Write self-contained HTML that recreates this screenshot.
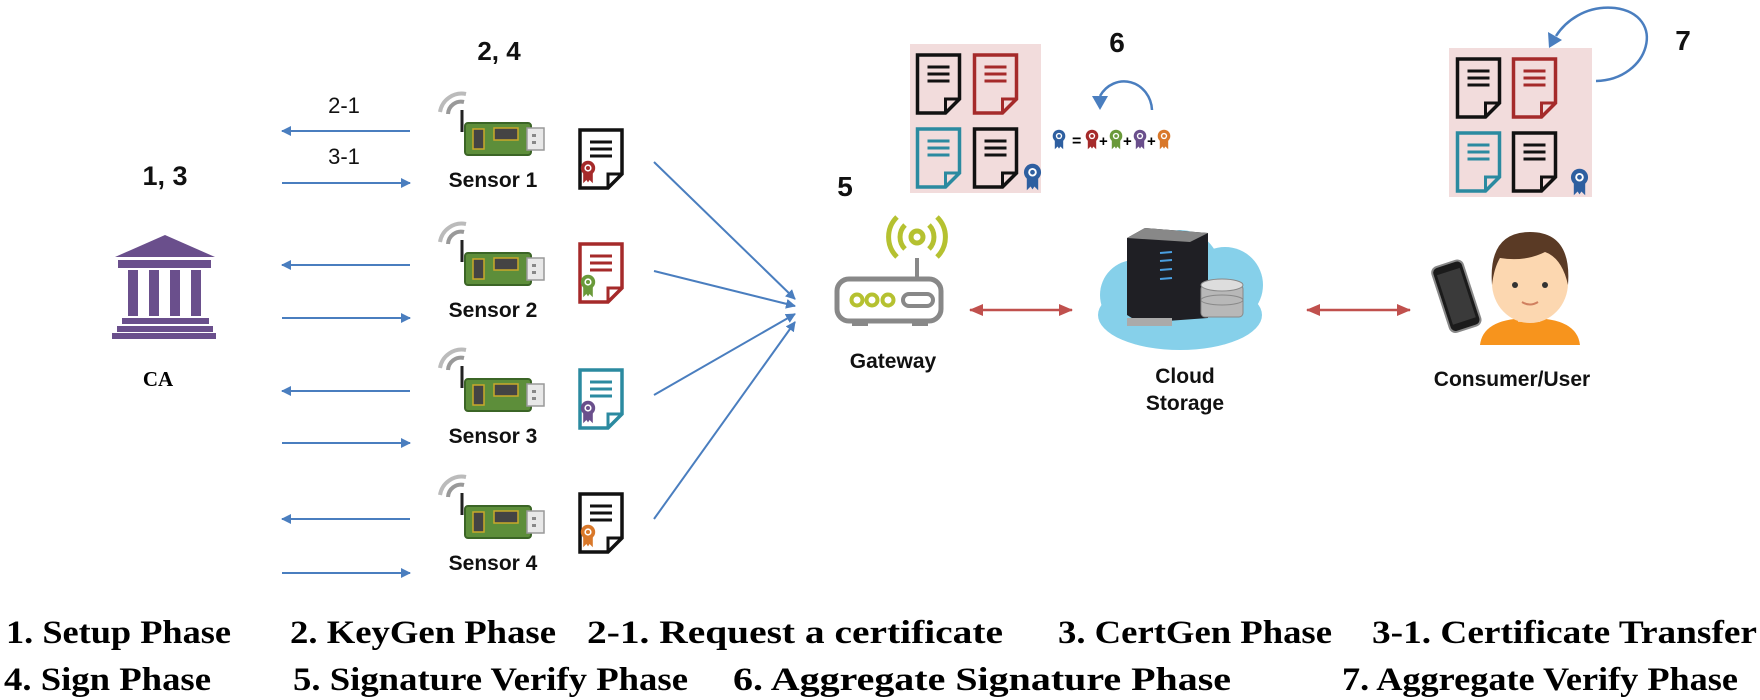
<!DOCTYPE html>
<html><head><meta charset="utf-8"><style>
html,body{margin:0;padding:0;background:#fff;}
svg{display:block;}
.lbl{font-family:"Liberation Sans",sans-serif;font-weight:bold;fill:#111;}
.leg{font-family:"Liberation Serif",serif;font-weight:bold;font-size:33px;fill:#000;}
</style></head><body>
<svg width="1760" height="700" viewBox="0 0 1760 700" xmlns="http://www.w3.org/2000/svg">
<defs>
<marker id="ab" markerWidth="10" markerHeight="10" refX="9" refY="5" orient="auto" markerUnits="userSpaceOnUse"><path d="M0,0 L10,5 L0,10 Z" fill="#4a7ebf"/></marker>
<marker id="ar" markerWidth="14" markerHeight="12" refX="13" refY="6" orient="auto-start-reverse" markerUnits="userSpaceOnUse"><path d="M0,0 L14,6 L0,12 Z" fill="#c0504d"/></marker>
<symbol id="doc" viewBox="0 0 46 62" overflow="visible">
<path d="M2,2 H44 V46 L30,60 H2 Z" fill="none" stroke="currentColor" stroke-width="3.5" stroke-linejoin="miter"/>
<path d="M44,46 H30 V60" fill="none" stroke="currentColor" stroke-width="3"/>
<path d="M12,14 H34 M12,21 H34 M12,28 H34" stroke="currentColor" stroke-width="3"/>
</symbol>
<symbol id="medal" viewBox="0 0 20 30" overflow="visible">
<path d="M4,16 V29 L8,25 L10,28 L12,25 L16,29 V16 Z" fill="currentColor"/>
<circle cx="10" cy="10" r="9" fill="currentColor"/>
<circle cx="10" cy="10" r="4.5" fill="#fff"/>
<circle cx="10" cy="10" r="2.5" fill="currentColor"/>
</symbol>
<symbol id="sensor" viewBox="0 0 110 70" overflow="visible">
<path d="M8,22 A22,22 0 0 1 34,4" fill="none" stroke="#bbb" stroke-width="4"/>
<path d="M16,24 A13,13 0 0 1 32,12" fill="none" stroke="#999" stroke-width="4"/>
<line x1="30" y1="20" x2="30" y2="42" stroke="#222" stroke-width="3"/>
<rect x="33" y="33" width="66" height="32" rx="3" fill="#5d8e3a" stroke="#3b6526" stroke-width="2"/>
<rect x="41" y="39" width="11" height="20" fill="#444" stroke="#c9a92a" stroke-width="1.5"/>
<rect x="62" y="38" width="24" height="12" fill="#444" stroke="#c9a92a" stroke-width="1.5"/>
<rect x="95" y="38" width="17" height="22" fill="#e8e8e8" stroke="#999" stroke-width="1.5"/>
<rect x="100" y="44" width="4" height="3" fill="#888"/><rect x="100" y="51" width="4" height="3" fill="#888"/>
</symbol>
</defs>

<!-- CA -->
<text class="lbl" x="165" y="185" font-size="27" text-anchor="middle">1, 3</text>
<g fill="#6a4f8c">
<polygon points="115,257 165,235 215,257"/>
<rect x="118" y="260" width="93" height="8"/>
<rect x="128" y="270" width="10" height="46"/><rect x="149" y="270" width="10" height="46"/>
<rect x="170" y="270" width="10" height="46"/><rect x="191" y="270" width="10" height="46"/>
<rect x="122" y="318" width="87" height="6"/><rect x="117" y="326" width="96" height="6"/><rect x="112" y="333" width="104" height="6"/>
</g>
<text x="158" y="386" font-family="Liberation Serif,serif" font-weight="bold" font-size="21" text-anchor="middle">CA</text>

<!-- left arrows -->
<g stroke="#4a7ebf" stroke-width="2" marker-end="url(#ab)">
<line x1="410" y1="131" x2="282" y2="131"/><line x1="282" y1="183" x2="410" y2="183"/>
<line x1="410" y1="265" x2="282" y2="265"/><line x1="282" y1="318" x2="410" y2="318"/>
<line x1="410" y1="391" x2="282" y2="391"/><line x1="282" y1="443" x2="410" y2="443"/>
<line x1="410" y1="519" x2="282" y2="519"/><line x1="282" y1="573" x2="410" y2="573"/>
</g>
<text class="lbl" x="344" y="113" font-size="22" text-anchor="middle" style="font-weight:normal">2-1</text>
<text class="lbl" x="344" y="164" font-size="22" text-anchor="middle" style="font-weight:normal">3-1</text>
<text class="lbl" x="499" y="60" font-size="26" text-anchor="middle">2, 4</text>

<!-- sensors -->
<use href="#sensor" x="432" y="90" width="110" height="70"/>
<use href="#sensor" x="432" y="220" width="110" height="70"/>
<use href="#sensor" x="432" y="346" width="110" height="70"/>
<use href="#sensor" x="432" y="473" width="110" height="70"/>
<text class="lbl" x="493" y="187" font-size="21" text-anchor="middle">Sensor 1</text>
<text class="lbl" x="493" y="317" font-size="21" text-anchor="middle">Sensor 2</text>
<text class="lbl" x="493" y="443" font-size="21" text-anchor="middle">Sensor 3</text>
<text class="lbl" x="493" y="570" font-size="21" text-anchor="middle">Sensor 4</text>

<!-- docs by sensors -->
<use href="#doc" x="578" y="128" width="46" height="62" style="color:#111"/>
<use href="#medal" x="580" y="160" width="16" height="24" style="color:#a52a2a"/>
<use href="#doc" x="578" y="242" width="46" height="62" style="color:#a52a2a"/>
<use href="#medal" x="580" y="274" width="16" height="24" style="color:#6a9a3a"/>
<use href="#doc" x="578" y="368" width="46" height="62" style="color:#2b8aa0"/>
<use href="#medal" x="580" y="400" width="16" height="24" style="color:#6a4f8c"/>
<use href="#doc" x="578" y="492" width="46" height="62" style="color:#111"/>
<use href="#medal" x="580" y="524" width="16" height="24" style="color:#d9782a"/>

<!-- lines to gateway -->
<g stroke="#4a7ebf" stroke-width="2" marker-end="url(#ab)">
<line x1="654" y1="162" x2="795" y2="299"/>
<line x1="654" y1="271" x2="795" y2="306"/>
<line x1="654" y1="395" x2="795" y2="314"/>
<line x1="654" y1="519" x2="795" y2="322"/>
</g>

<!-- gateway -->
<text class="lbl" x="845" y="196" font-size="28" text-anchor="middle">5</text>
<g fill="none" stroke="#b5c130" stroke-width="5">
<circle cx="917" cy="237" r="6"/>
<path d="M905,225 A17,17 0 0 0 905,249 M929,225 A17,17 0 0 1 929,249"/>
<path d="M897,217 A28,28 0 0 0 897,257 M937,217 A28,28 0 0 1 937,257"/>
</g>
<line x1="917" y1="258" x2="917" y2="278" stroke="#888" stroke-width="4"/>
<rect x="837" y="279" width="104" height="42" rx="12" fill="none" stroke="#888" stroke-width="5"/>
<rect x="852" y="320" width="16" height="6" fill="#888"/><rect x="912" y="320" width="16" height="6" fill="#888"/>
<g fill="none" stroke="#b5c130" stroke-width="4"><circle cx="857" cy="300" r="5.5"/><circle cx="872" cy="300" r="5.5"/><circle cx="888" cy="300" r="5.5"/></g>
<rect x="903" y="294" width="30" height="12" rx="6" fill="none" stroke="#888" stroke-width="4"/>
<text class="lbl" x="893" y="368" font-size="21" text-anchor="middle">Gateway</text>

<!-- red arrows -->
<line x1="970" y1="310" x2="1072" y2="310" stroke="#c0504d" stroke-width="2.5" marker-start="url(#ar)" marker-end="url(#ar)"/>
<line x1="1307" y1="310" x2="1410" y2="310" stroke="#c0504d" stroke-width="2.5" marker-start="url(#ar)" marker-end="url(#ar)"/>

<!-- pink box 1 -->
<rect x="910" y="44" width="131" height="149" fill="#f2dcdc"/>
<use href="#doc" x="915" y="53" width="47" height="62" style="color:#111"/>
<use href="#doc" x="972" y="53" width="47" height="62" style="color:#a52a2a"/>
<use href="#doc" x="915" y="127" width="47" height="62" style="color:#2b8aa0"/>
<use href="#doc" x="972" y="127" width="47" height="62" style="color:#111"/>
<use href="#medal" x="1023" y="162" width="19" height="30" style="color:#2e5fa0"/>

<!-- 6 -->
<text class="lbl" x="1117" y="52" font-size="28" text-anchor="middle">6</text>
<path d="M1152,110 A28,30 0 0 0 1100,96" fill="none" stroke="#4a7ebf" stroke-width="2.5"/>
<path d="M1092,96 L1108,96 L1100,110 Z" fill="#4a7ebf"/>
<use href="#medal" x="1052" y="129" width="14" height="21" style="color:#2e5fa0"/>
<text x="1072" y="146" font-family="Liberation Sans,sans-serif" font-weight="bold" font-size="16">=</text>
<use href="#medal" x="1085" y="129" width="14" height="21" style="color:#a52a2a"/>
<text x="1099" y="146" font-family="Liberation Sans,sans-serif" font-weight="bold" font-size="15">+</text>
<use href="#medal" x="1109" y="129" width="14" height="21" style="color:#6a9a3a"/>
<text x="1123" y="146" font-family="Liberation Sans,sans-serif" font-weight="bold" font-size="15">+</text>
<use href="#medal" x="1133" y="129" width="14" height="21" style="color:#6a4f8c"/>
<text x="1147" y="146" font-family="Liberation Sans,sans-serif" font-weight="bold" font-size="15">+</text>
<use href="#medal" x="1157" y="129" width="14" height="21" style="color:#d9782a"/>

<!-- cloud storage -->
<g fill="#86d0ea">
<ellipse cx="1180" cy="315" rx="82" ry="35"/>
<circle cx="1135" cy="295" r="35"/><circle cx="1180" cy="270" r="40"/><circle cx="1225" cy="285" r="38"/>
</g>
<polygon points="1127,238 1145,228 1208,233 1208,318 1140,323 1127,315" fill="#1f1f24"/>
<polygon points="1127,238 1145,228 1208,233 1190,242" fill="#888"/>
<g stroke="#4a9fe0" stroke-width="2"><line x1="1160" y1="253" x2="1172" y2="252"/><line x1="1160" y1="261" x2="1172" y2="260"/><line x1="1160" y1="270" x2="1172" y2="269"/><line x1="1160" y1="279" x2="1172" y2="278"/></g>
<rect x="1127" y="318" width="45" height="8" fill="#aaa"/>
<g fill="#b8b8b8" stroke="#888">
<rect x="1201" y="285" width="42" height="32" rx="4"/>
<ellipse cx="1222" cy="300" rx="21" ry="5"/>
<ellipse cx="1222" cy="285" rx="21" ry="6" fill="#ddd"/>
</g>
<text class="lbl" x="1185" y="383" font-size="21" text-anchor="middle">Cloud</text>
<text class="lbl" x="1185" y="410" font-size="21" text-anchor="middle">Storage</text>

<!-- pink box 2 -->
<rect x="1449" y="48" width="143" height="149" fill="#f2dcdc"/>
<use href="#doc" x="1455" y="57" width="47" height="62" style="color:#111"/>
<use href="#doc" x="1511" y="57" width="47" height="62" style="color:#a52a2a"/>
<use href="#doc" x="1455" y="131" width="47" height="62" style="color:#2b8aa0"/>
<use href="#doc" x="1511" y="131" width="47" height="62" style="color:#111"/>
<use href="#medal" x="1570" y="167" width="19" height="30" style="color:#2e5fa0"/>
<text class="lbl" x="1683" y="50" font-size="28" text-anchor="middle">7</text>
<path d="M1596,81 C1650,80 1668,15 1615,8 C1585,5 1565,22 1556,36" fill="none" stroke="#4a7ebf" stroke-width="2.5"/>
<path d="M1548,32 L1562,40 L1549,48 Z" fill="#4a7ebf"/>

<!-- user -->
<path d="M1480,345 Q1483,318 1530,318 Q1577,318 1580,345 Z" fill="#f7941d"/>
<rect x="1518" y="302" width="22" height="20" fill="#f5c9a0"/>
<ellipse cx="1530" cy="283" rx="38" ry="40" fill="#fcd7b0"/>
<path d="M1492,285 Q1488,232 1530,232 Q1572,232 1568,285 Q1562,258 1545,252 Q1525,262 1500,258 Q1494,268 1492,285 Z" fill="#5a3a25"/>
<circle cx="1515" cy="285" r="3" fill="#333"/><circle cx="1545" cy="285" r="3" fill="#333"/>
<path d="M1522,302 Q1530,307 1538,302" fill="none" stroke="#d08060" stroke-width="2"/>
<g transform="rotate(-18 1457 295)">
<rect x="1440" y="262" width="32" height="68" rx="6" fill="#1b1b1b" stroke="#888" stroke-width="2"/>
<rect x="1444" y="270" width="24" height="52" fill="#3a3a3a"/>
</g>
<text class="lbl" x="1512" y="386" font-size="21" text-anchor="middle">Consumer/User</text>

<!-- legend -->
<text class="leg" x="6" y="643" textLength="225" lengthAdjust="spacingAndGlyphs">1. Setup Phase</text>
<text class="leg" x="290" y="643" textLength="266" lengthAdjust="spacingAndGlyphs">2. KeyGen Phase</text>
<text class="leg" x="587" y="643" textLength="416" lengthAdjust="spacingAndGlyphs">2-1. Request a certificate</text>
<text class="leg" x="1058" y="643" textLength="274" lengthAdjust="spacingAndGlyphs">3. CertGen Phase</text>
<text class="leg" x="1372" y="643" textLength="385" lengthAdjust="spacingAndGlyphs">3-1. Certificate Transfer</text>
<text class="leg" x="4" y="690" textLength="207" lengthAdjust="spacingAndGlyphs">4. Sign Phase</text>
<text class="leg" x="293" y="690" textLength="395" lengthAdjust="spacingAndGlyphs">5. Signature Verify Phase</text>
<text class="leg" x="733" y="690" textLength="498" lengthAdjust="spacingAndGlyphs">6. Aggregate Signature Phase</text>
<text class="leg" x="1342" y="690" textLength="396" lengthAdjust="spacingAndGlyphs">7. Aggregate Verify Phase</text>
</svg>
</body></html>
